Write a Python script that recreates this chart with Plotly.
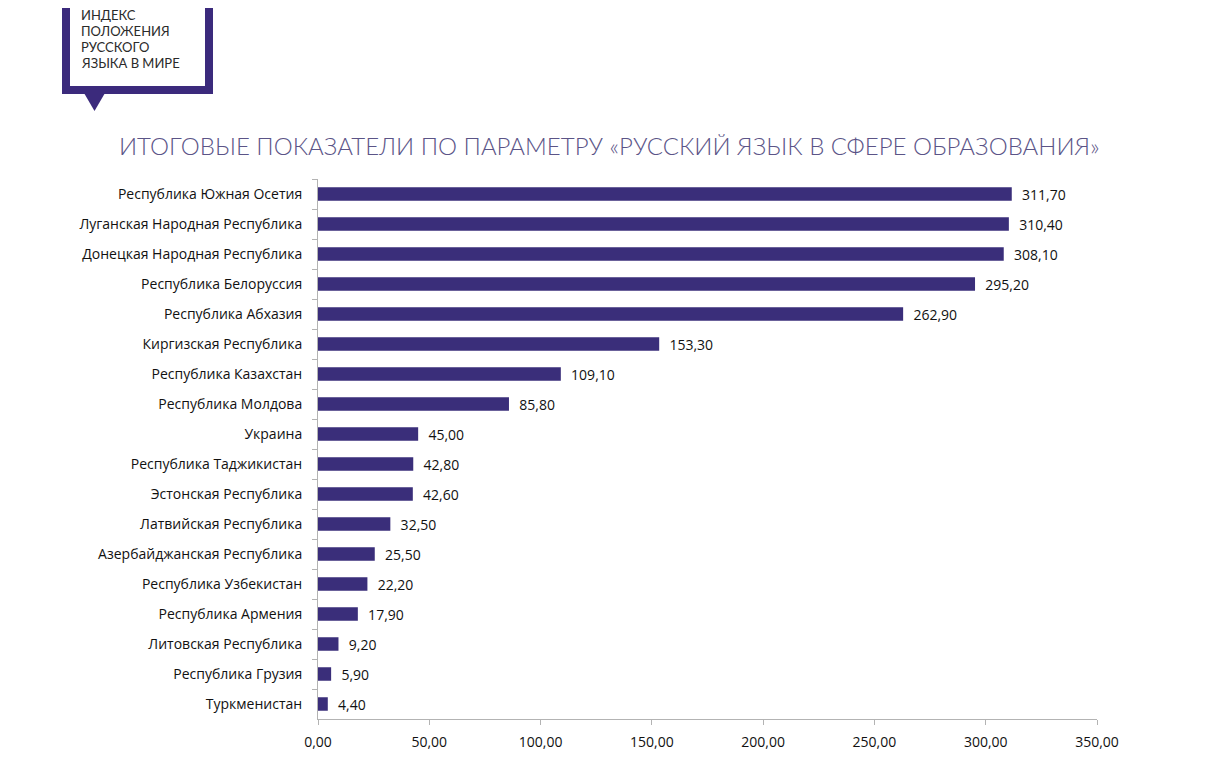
import plotly.graph_objects as go

categories = [
    "Республика Южная Осетия",
    "Луганская Народная Республика",
    "Донецкая Народная Республика",
    "Республика Белоруссия",
    "Республика Абхазия",
    "Киргизская Республика",
    "Республика Казахстан",
    "Республика Молдова",
    "Украина",
    "Республика Таджикистан",
    "Эстонская Республика",
    "Латвийская Республика",
    "Азербайджанская Республика",
    "Республика Узбекистан",
    "Республика Армения",
    "Литовская Республика",
    "Республика Грузия",
    "Туркменистан",
]
values = [311.70, 310.40, 308.10, 295.20, 262.90, 153.30, 109.10, 85.80, 45.00,
          42.80, 42.60, 32.50, 25.50, 22.20, 17.90, 9.20, 5.90, 4.40]
x_ticks = [0, 50, 100, 150, 200, 250, 300, 350]

title_text = "ИТОГОВЫЕ ПОКАЗАТЕЛИ ПО ПАРАМЕТРУ «РУССКИЙ ЯЗЫК В СФЕРЕ ОБРАЗОВАНИЯ»"
logo_lines = ["ИНДЕКС", "ПОЛОЖЕНИЯ", "РУССКОГО", "ЯЗЫКА В МИРЕ"]

OFF = 8  # page body margin
W, H = 1209 - OFF, 775 - OFF
L, R, T, B = 318 - OFF, 112, 179 - OFF, 56
PW, PH = W - L - R, H - T - B

def px(x):
    return (x - OFF - L) / PW

def py(y):
    return 1 - (y - OFF - T) / PH

bar_color = "#3a2e7a"
logo_color = "#3b2a7c"
label_font = dict(family="Open Sans", size=14, color="#111111")

fig = go.Figure(go.Bar(
    y=categories,
    x=values,
    orientation="h",
    marker=dict(color=bar_color, line=dict(width=0)),
    texttemplate="\u00a0\u00a0%{x:.2f}",
    textposition="outside",
    constraintext="none",
    textfont=label_font,
    cliponaxis=False,
    width=0.45,
))

shapes = []
shapes.append(dict(type="rect", xref="paper", yref="paper",
                   x0=px(62), x1=px(213), y0=py(94), y1=py(-20),
                   fillcolor=logo_color, line=dict(width=0), layer="above"))
shapes.append(dict(type="rect", xref="paper", yref="paper",
                   x0=px(70), x1=px(205), y0=py(86), y1=py(-20),
                   fillcolor="white", line=dict(width=0), layer="above"))
shapes.append(dict(type="path", xref="paper", yref="paper",
                   path=f"M {px(84)},{py(93)} L {px(105)},{py(93)} L {px(94.5)},{py(111)} Z",
                   fillcolor=logo_color, line=dict(width=0), layer="above"))

annotations = []
for i, line in enumerate(logo_lines):
    annotations.append(dict(
        text=line, xref="paper", yref="paper",
        x=px(79), y=py(15 + 16 * i), xanchor="left", yanchor="middle",
        showarrow=False, font=dict(family="Lato", size=13, color="#2a2a2a"),
    ))
annotations.append(dict(
    text=title_text, xref="paper", yref="paper",
    x=px(609), y=py(145), xanchor="center", yanchor="middle",
    showarrow=False, font=dict(family="Lato", size=24, color="#5b5487", weight=300),
))

fig.update_layout(
    width=W, height=H,
    margin=dict(l=L, r=R, t=T, b=B, pad=0),
    paper_bgcolor="white", plot_bgcolor="white",
    separators=", ",
    showlegend=False,
    shapes=shapes,
    annotations=annotations,
    font=label_font,
    xaxis=dict(
        range=[0, 350], tickvals=x_ticks, tickformat=".2f",
        showgrid=False, zeroline=False,
        showline=True, linecolor="#b3b3b3", linewidth=1,
        ticks="outside", ticklen=5, tickcolor="#b3b3b3",
        ticklabelstandoff=5,
        tickfont=label_font,
        fixedrange=True,
    ),
    yaxis=dict(
        autorange="reversed", showgrid=False, zeroline=False,
        showline=True, linecolor="#b3b3b3", linewidth=1,
        ticks="outside", ticklen=5, tickcolor="#b3b3b3",
        tickson="boundaries",
        ticklabelstandoff=12,
        tickfont=label_font,
        fixedrange=True,
    ),
)

fig.write_html("out.html")
